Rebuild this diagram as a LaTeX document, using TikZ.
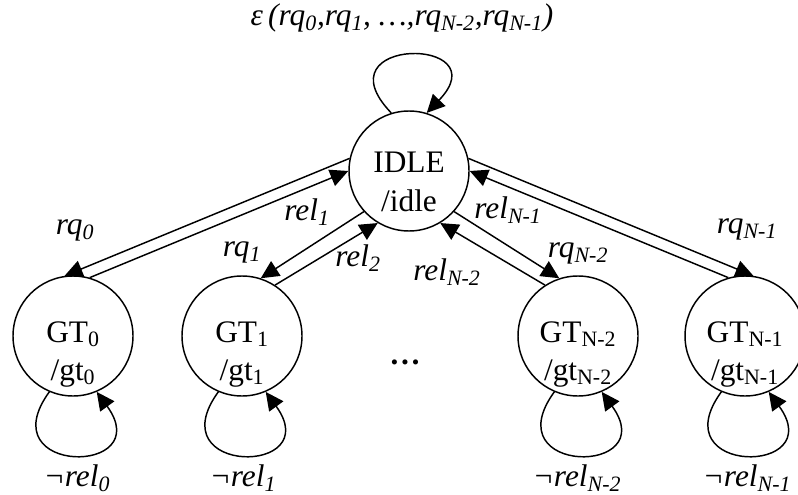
\documentclass[tikz,border=0pt]{standalone}
\usepackage{fontspec}
\setmainfont{Liberation Serif}
\usetikzlibrary{arrows.meta}
\begin{document}
\begin{tikzpicture}[x=0.75pt,y=-0.75pt,
  state/.style={circle,draw,line width=1.1pt,minimum size=90pt,inner sep=0pt},
  txt/.style={font=\fontsize{23.5}{28}\selectfont,inner sep=0pt},
  lbl/.style={font=\fontsize{23.5}{28}\selectfont\itshape,inner sep=0pt},
  arr/.style={line width=1.1pt,-{Triangle[length=13.5pt,width=13pt]}},
]
\useasboundingbox (0,0) rectangle (798,495);
% states
\node[state] (idle) at (409,171) {};
\node[txt,anchor=base] (idlea) at (409,173) {IDLE};
\node[txt,anchor=base] (idleb) at (409,211) {/idle};
\node[state] (g0) at (73,336) {};
\node[txt,anchor=base] (g0a) at (73,342) {GT\textsubscript{0}};
\node[txt,anchor=base] (g0b) at (73,380) {/gt\textsubscript{0}};
\node[state] (g1) at (242,336) {};
\node[txt,anchor=base] (g1a) at (242,342) {GT\textsubscript{1}};
\node[txt,anchor=base] (g1b) at (242,380) {/gt\textsubscript{1}};
\node[state] (g2) at (578,336) {};
\node[txt,anchor=base] (g2a) at (578,342) {GT\textsubscript{N-2}};
\node[txt,anchor=base] (g2b) at (578,380) {/gt\textsubscript{N-2}};
\node[state] (g3) at (745,336) {};
\node[txt,anchor=base] (g3a) at (745,342) {GT\textsubscript{N-1}};
\node[txt,anchor=base] (g3b) at (745,380) {/gt\textsubscript{N-1}};
\node[txt,anchor=base,font=\fontsize{23.5}{28}\selectfont\bfseries] (dots) at (405,364) {…};
% self loops
\draw[arr] (idle.107) .. controls +(-74,-77) and +(74,-77) .. (idle.73);
\draw[arr] (g0.247) .. controls +(-61,84) and +(61,84) .. (g0.293);
\draw[arr] (g1.247) .. controls +(-61,84) and +(61,84) .. (g1.293);
\draw[arr] (g2.247) .. controls +(-61,84) and +(61,84) .. (g2.293);
\draw[arr] (g3.247) .. controls +(-61,84) and +(61,84) .. (g3.293);
% transitions
\draw[arr] (idle.168) -- (g0.98);
\draw[arr] (g0.74) -- (idle.180);
\draw[arr] (idle.222) -- (g1.72);
\draw[arr] (g1.57) -- (idle.239);
\draw[arr] (idle.318) -- (g2.108);
\draw[arr] (g2.123) -- (idle.301);
\draw[arr] (idle.12) -- (g3.82);
\draw[arr] (g3.106) -- (idle.0);
% labels
\node[lbl] (leps) at (402,18) {ε\,(rq\textsubscript{0},rq\textsubscript{1}, …,rq\textsubscript{N-2},rq\textsubscript{N-1})};
\node[lbl] (lrq0) at (75,230) {rq\textsubscript{0}};
\node[lbl] (lrel1) at (307,212) {rel\textsubscript{1}};
\node[lbl] (lrq1) at (242,252) {rq\textsubscript{1}};
\node[lbl] (lrel2) at (358,258) {rel\textsubscript{2}};
\node[lbl] (lreln1) at (508,210) {rel\textsubscript{N-1}};
\node[lbl] (lrqn2) at (578,253) {rq\textsubscript{N-2}};
\node[lbl] (lreln2) at (447,272) {rel\textsubscript{N-2}};
\node[lbl] (lrqn1) at (747,229) {rq\textsubscript{N-1}};
\node[lbl] (ln0) at (77,478) {¬rel\textsubscript{0}};
\node[lbl] (ln1) at (243,478) {¬rel\textsubscript{1}};
\node[lbl] (ln2) at (577,478) {¬rel\textsubscript{N-2}};
\node[lbl] (ln3) at (747,478) {¬rel\textsubscript{N-1}};
\end{tikzpicture}
\end{document}
